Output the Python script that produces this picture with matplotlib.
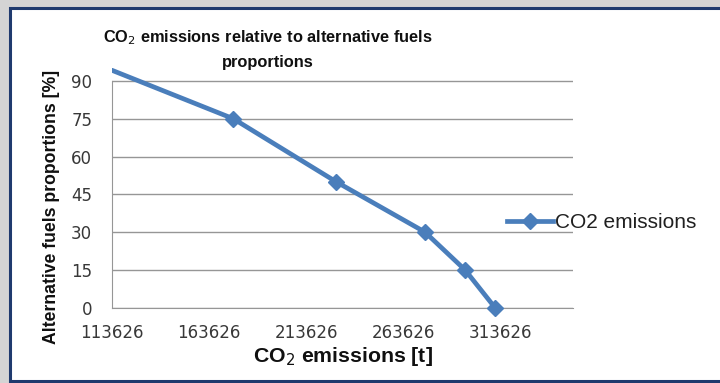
import matplotlib
matplotlib.use("Agg")
import matplotlib.pyplot as plt
from matplotlib.patches import Rectangle

# Data
co2_emissions = [95000, 176100, 228900, 274600, 295200, 310600]
af_proportions = [100, 75, 50, 30, 15, 0]
x_ticks = [113626, 163626, 213626, 263626, 313626]
y_ticks = [0, 15, 30, 45, 60, 75, 90]
series_name = "CO2 emissions"

W, H = 720, 383
fig = plt.figure(figsize=(W / 100, H / 100), dpi=100)
fig.patch.set_facecolor("#d4d4d4")

# white frame with navy border
frame = Rectangle((10 / W, 2 / H), 1.2, 373 / H,
                  transform=fig.transFigure, facecolor="white",
                  edgecolor="#1f3a6e", linewidth=2.2, zorder=-10)
fig.patches.append(frame)

left, right = 111.7 / W, 573 / W
bottom = 1 - 307.7 / H
ymax = 95
top_px = 307.7 - ymax / 15 * 37.8
top = 1 - top_px / H
ax = fig.add_axes([left, bottom, right - left, top - bottom])
ax.set_facecolor("none")

line, = ax.plot(co2_emissions, af_proportions, color="#4a7ebb", linewidth=3.4,
                marker="D", markersize=8.5, markerfacecolor="#4a7ebb",
                markeredgecolor="#4a7ebb", label=series_name, zorder=3)
clip = Rectangle((0, -0.2), 1, 1.2, transform=ax.transAxes,
                 facecolor="none", edgecolor="none")
line.set_clip_path(clip)

ax.set_xlim(113626, 113626 + (573 - 111.7) / 97.3 * 50000)
ax.set_ylim(0, ymax)
ax.set_xticks(x_ticks)
ax.set_xticklabels([str(v) for v in x_ticks])
ax.set_yticks(y_ticks)
ax.set_yticklabels([str(v) for v in y_ticks])
ax.yaxis.grid(True, color="#969696", linewidth=1.0)
ax.set_axisbelow(True)
for s in ["top", "right"]:
    ax.spines[s].set_visible(False)
ax.spines["left"].set_bounds(0, 90)
ax.spines["left"].set_color("#969696")
ax.spines["bottom"].set_color("#969696")
ax.tick_params(axis="both", length=0, labelsize=12, colors="#383838")
ax.tick_params(axis="x", pad=12)
ax.tick_params(axis="y", pad=14)
for lbl in ax.get_xticklabels() + ax.get_yticklabels():
    lbl.set_family("DejaVu Sans")

title_kw = dict(ha="center", va="center", fontsize=11.8, fontweight="bold",
                family="Liberation Sans", color="#101010")
fig.text(268 / W, 1 - 38 / H, "CO$_2$ emissions relative to alternative fuels",
         **title_kw)
fig.text(268 / W, 1 - 62 / H, "proportions", **title_kw)
fig.text(52 / W, 1 - 207 / H, "Alternative fuels proportions [%]",
         ha="center", va="center", rotation=90, fontsize=12.7,
         fontweight="bold", family="Liberation Sans", color="#101010")
fig.text(343 / W, 1 - 356 / H, "CO$_2$ emissions [t]",
         ha="center", va="center", fontsize=15.3, fontweight="bold",
         family="Liberation Sans", color="#101010")

leg = fig.legend(loc="center left", bbox_to_anchor=(488 / W, 1 - 223 / H),
                 frameon=False, handlelength=2.2, handletextpad=0.1,
                 prop={"family": "Liberation Sans", "size": 15})
for t in leg.get_texts():
    t.set_color("#202020")

fig.savefig("out.png", dpi=100)
